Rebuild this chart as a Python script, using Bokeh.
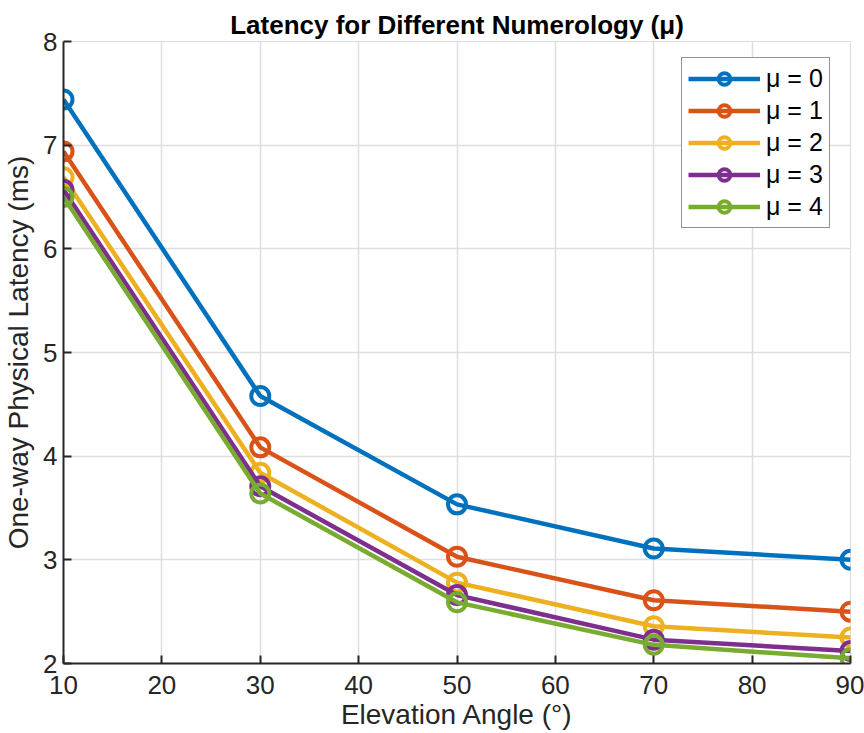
from bokeh.plotting import figure
from bokeh.models import Range1d, FixedTicker, Legend, LegendItem
from bokeh.embed import file_html
from bokeh.resources import INLINE

# Elevation angles (degrees) and one-way physical latency (ms) per numerology
elevation = [10, 30, 50, 70, 90]
latency_mu0 = [7.44, 4.58, 3.535, 3.11, 3.00]
latency_mu1 = [6.94, 4.085, 3.03, 2.61, 2.50]
latency_mu2 = [6.69, 3.84, 2.78, 2.36, 2.25]
latency_mu3 = [6.57, 3.71, 2.66, 2.23, 2.12]
latency_mu4 = [6.50, 3.64, 2.59, 2.18, 2.05]

series_labels = ["μ = 0", "μ = 1", "μ = 2", "μ = 3", "μ = 4"]
series_values = [latency_mu0, latency_mu1, latency_mu2, latency_mu3, latency_mu4]
colors = ["#0072BD", "#D95319", "#EDB120", "#7E2F8E", "#77AC30"]

x_ticks = [10, 20, 30, 40, 50, 60, 70, 80, 90]
y_ticks = [2, 3, 4, 5, 6, 7, 8]

FONT = "Liberation Sans"

p = figure(width=864, height=733, output_backend="svg", toolbar_location=None,
           x_range=Range1d(10, 90), y_range=Range1d(2, 8),
           min_border_left=60, min_border_right=14, min_border_top=41,
           min_border_bottom=70)

p.title.text = "Latency for Different Numerology (μ)"
p.title.align = "center"
p.title.text_font = FONT
p.title.text_font_size = "26px"
p.title.text_font_style = "bold"
p.title.text_color = "#000000"
p.title.offset = 0
p.title.standoff = 4

p.outline_line_color = "#dcdcdc"
p.outline_line_width = 1
p.background_fill_color = "white"
p.border_fill_color = "white"

for ax in (p.xaxis[0], p.yaxis[0]):
    ax.axis_line_color = "#262626"
    ax.axis_line_width = 2
    ax.major_tick_line_color = "#262626"
    ax.major_tick_line_width = 2
    ax.major_tick_in = 8
    ax.major_tick_out = 0
    ax.minor_tick_line_color = None
    ax.major_label_text_font = FONT
    ax.major_label_text_font_size = "26px"
    ax.major_label_text_color = "#262626"
    ax.axis_label_text_font = FONT
    ax.axis_label_text_font_size = "28px"
    ax.axis_label_text_font_style = "normal"
    ax.axis_label_text_color = "#262626"

p.xaxis.ticker = FixedTicker(ticks=x_ticks)
p.yaxis.ticker = FixedTicker(ticks=y_ticks)
p.xaxis.axis_label = "Elevation Angle (°)"
p.yaxis.axis_label = "One-way Physical Latency (ms)"
p.xaxis.major_label_standoff = 12
p.yaxis.major_label_standoff = 6
p.xaxis.axis_label_standoff = 2
p.yaxis.axis_label_standoff = 6

p.grid.grid_line_color = "#dedede"
p.grid.grid_line_width = 1.5

items = []
for label, vals, c in zip(series_labels, series_values, colors):
    ln = p.line(elevation, vals, line_color=c, line_width=4.5)
    mk = p.scatter(elevation, vals, marker="circle", size=18, fill_color=None,
                   line_color=c, line_width=4)
    items.append(LegendItem(label=label, renderers=[ln, mk]))

legend = Legend(items=items, location=(618, 435))
legend.label_text_font = FONT
legend.label_text_font_size = "25px"
legend.label_text_color = "#000000"
legend.glyph_width = 72
legend.glyph_height = 29
legend.spacing = 3
legend.padding = 6
legend.margin = 0
legend.label_standoff = 6
legend.border_line_color = "#262626"
legend.border_line_width = 1.5
legend.background_fill_color = "white"
legend.background_fill_alpha = 1.0
p.add_layout(legend)

open("out.html", "w").write(file_html(p, INLINE))
